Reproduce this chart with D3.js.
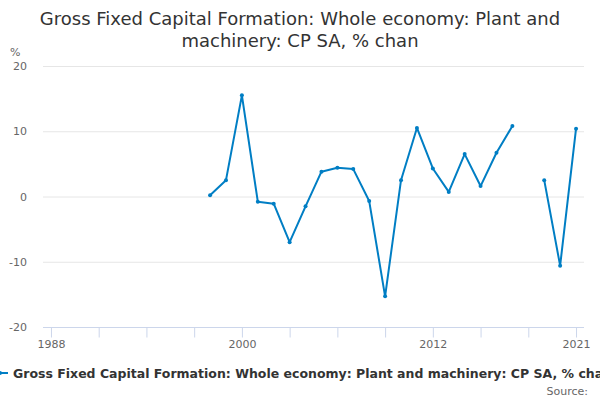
<!DOCTYPE html>
<html>
<head>
<meta charset="utf-8">
<script src="https://cdn.jsdelivr.net/npm/d3@7"></script>
<style>
  body { margin: 0; background: #fff; overflow: hidden; }
  svg { font-family: "DejaVu Sans", sans-serif; }
</style>
</head>
<body>
<svg id="chart" width="600" height="400"></svg>
<script>
// years shown on the category axis
var years = d3.range(1988, 2022).map(String);

// % change per year, null where there is no value
var values = [
  null, null, null, null, null, null, null, null, null, null,
  0.2, 2.5, 15.5, -0.8, -1.1, -7.0, -1.5, 3.8, 4.4, 4.2,
  -0.7, -15.3, 2.5, 10.5, 4.3, 0.7, 6.5, 1.6, 6.7, 10.8,
  null, 2.5, -10.6, 10.4
];

var yTicks = [-20, -10, 0, 10, 20];
var xTicks = ["1988", "1991", "1994", "1997", "2000", "2003", "2006", "2009", "2012", "2015", "2018", "2021"];
var xLabels = ["1988", "2000", "2012", "2021"];

var titleLines = [
  "Gross Fixed Capital Formation: Whole economy: Plant and",
  "machinery: CP SA, % chan"
];
var seriesName = "Gross Fixed Capital Formation: Whole economy: Plant and machinery: CP SA, % change";

var svg = d3.select("#chart");
var plot = {left: 43, right: 584, top: 66, bottom: 327};

var x = d3.scalePoint()
    .domain(years)
    .range([plot.left, plot.right])
    .padding(0.5);

var y = d3.scaleLinear()
    .domain([-20, 20])
    .range([plot.bottom, plot.top]);

// title
svg.append("g").selectAll("text")
  .data(titleLines)
  .enter().append("text")
    .attr("x", 300)
    .attr("y", function(d, i) { return 25 + i * 22; })
    .attr("text-anchor", "middle")
    .style("font-size", "18px")
    .style("fill", "#333")
    .text(function(d) { return d; });

// gridlines
svg.append("g").selectAll("line")
  .data(yTicks.filter(function(d) { return d != -20; }))
  .enter().append("line")
    .attr("x1", plot.left).attr("x2", plot.right)
    .attr("y1", function(d) { return y(d) + 0.5; })
    .attr("y2", function(d) { return y(d) + 0.5; })
    .style("stroke", "#e6e6e6");

// y axis labels (plain hyphen for negatives, like the original)
var yAxis = d3.axisLeft(y)
    .tickValues(yTicks)
    .tickSize(0)
    .tickPadding(16)
    .tickFormat(function(d) { return String(d); });
svg.append("g")
    .attr("transform", "translate(" + plot.left + ",0)")
    .call(yAxis)
    .call(function(g) { g.select(".domain").remove(); })
    .selectAll("text")
    .style("font-size", "11px")
    .style("fill", "#666")
    .style("font-family", "DejaVu Sans, sans-serif");

svg.append("text")
    .attr("x", 10).attr("y", 56)
    .style("font-size", "11px")
    .style("fill", "#666")
    .text("%");

// x axis
var xAxis = d3.axisBottom(x)
    .tickValues(xTicks)
    .tickSize(10)
    .tickPadding(3)
    .tickFormat(function(d) { return xLabels.indexOf(d) >= 0 ? d : ""; });

var gx = svg.append("g")
    .attr("transform", "translate(0," + (plot.bottom + 0.5) + ")")
    .call(xAxis);
gx.select(".domain")
    .attr("d", "M" + plot.left + ",0H" + plot.right)
    .style("stroke", "#ccd6eb");
gx.selectAll(".tick line").style("stroke", "#ccd6eb");
gx.selectAll("text")
    .style("font-size", "11px")
    .style("fill", "#666")
    .style("font-family", "DejaVu Sans, sans-serif");

// series line
var pts = years.map(function(yr, i) { return {year: yr, value: values[i]}; });
var line = d3.line()
    .defined(function(d) { return d.value !== null; })
    .x(function(d) { return x(d.year); })
    .y(function(d) { return y(d.value); });

svg.append("path")
    .datum(pts)
    .attr("d", line)
    .style("fill", "none")
    .style("stroke", "#007ec4")
    .style("stroke-width", 2)
    .style("stroke-linejoin", "round");

svg.append("g").selectAll("circle")
  .data(pts.filter(function(d) { return d.value !== null; }))
  .enter().append("circle")
    .attr("cx", function(d) { return x(d.year); })
    .attr("cy", function(d) { return y(d.value); })
    .attr("r", 2)
    .style("fill", "#007ec4");

// legend (runs past the right edge, as in the original)
var legend = svg.append("g").attr("transform", "translate(0,373)");
legend.append("line")
    .attr("x1", -8).attr("x2", 8)
    .style("stroke", "#007ec4")
    .style("stroke-width", 2);
legend.append("circle").attr("cx", 0).attr("r", 2).style("fill", "#007ec4");
legend.append("text")
    .attr("x", 13).attr("y", 4.5)
    .style("font-size", "12.5px")
    .style("font-weight", "bold")
    .style("fill", "#333")
    .text(seriesName);

svg.append("text")
    .attr("x", 588).attr("y", 395)
    .attr("text-anchor", "end")
    .style("font-size", "11px")
    .style("fill", "#666")
    .text("Source:");
</script>
</body>
</html>
